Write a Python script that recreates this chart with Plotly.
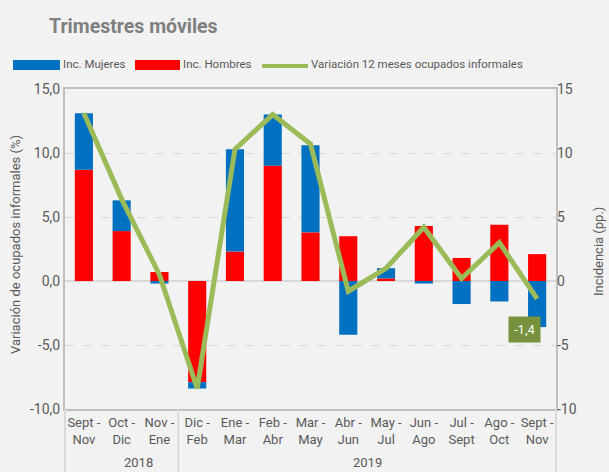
import plotly.graph_objects as go

categorias = ["Sept -<br>Nov", "Oct -<br>Dic", "Nov -<br>Ene", "Dic -<br>Feb", "Ene -<br>Mar",
              "Feb -<br>Abr", "Mar -<br>May", "Abr -<br>Jun", "May -<br>Jul", "Jun -<br>Ago",
              "Jul -<br>Sept", "Ago -<br>Oct", "Sept -<br>Nov"]
anios = ["2018", "2019"]
inc_hombres = [8.7, 3.9, 0.7, -7.9, 2.3, 9.0, 3.8, 3.5, 0.2, 4.3, 1.8, 4.4, 2.1]
inc_mujeres = [4.4, 2.4, -0.2, -0.5, 8.0, 4.0, 6.8, -4.2, 0.8, -0.2, -1.8, -1.6, -3.6]
variacion = [13.1, 6.4, 0.5, -8.4, 10.3, 13.0, 10.7, -0.8, 1.0, 4.2, 0.2, 3.0, -1.4]
left_ticks = [-10, -5, 0, 5, 10, 15]
left_ticktext = ["-10,0", "-5,0", "0,0", "5,0", "10,0", "15,0"]
right_ticktext = ["-10", "-5", "0", "5", "10", "15"]

BLUE = "#0070C0"
RED = "#FF0000"
GREEN = "#9BBB59"
GRAY = "#595959"
BG = "#F2F2F2"
FONT = "Roboto, sans-serif"

x = list(range(len(categorias)))

fig = go.Figure()
fig.add_trace(go.Bar(x=x, y=inc_hombres, name="Inc. Hombres", marker_color=RED,
                     marker_line_width=0, width=0.48, showlegend=False))
fig.add_trace(go.Bar(x=x, y=inc_mujeres, name="Inc. Mujeres", marker_color=BLUE,
                     marker_line_width=0, width=0.48, showlegend=False))
fig.add_trace(go.Scatter(x=x, y=variacion, name="Variación 12 meses ocupados informales",
                         mode="lines", line=dict(color=GREEN, width=5), yaxis="y2",
                         showlegend=False))

W, H = 609, 472
L, R, T, B = 65, 53, 89, 63
n = len(categorias)
fig.update_layout(
    width=W, height=H,
    margin=dict(l=L, r=R, t=T, b=B, autoexpand=False),
    paper_bgcolor=BG, plot_bgcolor=BG,
    barmode="relative",
    font=dict(family=FONT, color=GRAY, size=13),
    xaxis=dict(range=[-0.5, n - 0.5], tickmode="array", tickvals=x, ticktext=categorias,
               showgrid=False, zeroline=False, showline=True, linecolor="#BFBFBF",
               linewidth=2, mirror=True, ticks="", automargin=False,
               tickfont=dict(size=13, color=GRAY)),
    yaxis=dict(range=[-10, 15], tickvals=left_ticks, ticktext=left_ticktext,
               showgrid=True, gridcolor="#D9D9D9", griddash="dash", gridwidth=1,
               zeroline=True, zerolinecolor="#D9D9D9", zerolinewidth=1.5,
               showline=True, linecolor="#BFBFBF", linewidth=2, mirror=True, ticks="",
               automargin=False, tickfont=dict(size=14, color=GRAY)),
    yaxis2=dict(range=[-10, 15], tickvals=left_ticks, ticktext=right_ticktext,
                overlaying="y", side="right", showgrid=False, zeroline=False,
                showline=False, ticks="", automargin=False,
                tickfont=dict(size=14, color=GRAY)),
)

def px(xp):
    return (xp - L) / (W - L - R)
def py(yp):
    return (H - B - yp) / (H - B - T)

# axis titles
fig.add_annotation(xref="paper", yref="paper", x=px(15), y=py(245), text="Variación de ocupados informales (%)",
                   textangle=-90, showarrow=False, font=dict(size=13, color=GRAY),
                   xanchor="center", yanchor="middle")
fig.add_annotation(xref="paper", yref="paper", x=px(598), y=py(252), text="Incidencia (pp.)",
                   textangle=-90, showarrow=False, font=dict(size=13, color=GRAY),
                   xanchor="center", yanchor="middle")

# vertical separators for year groups
sep = 3 / n
for xp in [0, sep, 1]:
    fig.add_shape(type="line", xref="paper", yref="paper", x0=xp, x1=xp, y0=0, y1=py(472),
                  line=dict(color="#D9D9D9", width=2))

fig.add_annotation(xref="paper", yref="paper", x=sep / 2, y=py(462), text=anios[0],
                   showarrow=False, font=dict(size=13, color=GRAY), yanchor="middle")
fig.add_annotation(xref="paper", yref="paper", x=sep + (1 - sep) / 2, y=py(462), text=anios[1],
                   showarrow=False, font=dict(size=13, color=GRAY), yanchor="middle")

# data label for last point
fig.add_annotation(x=x[-1], y=-3.75, yref="y2", text="-1,4", showarrow=False, xshift=-13,
                   bgcolor="#76923C", font=dict(color="white", size=13), borderpad=5)

# title
fig.add_annotation(xref="paper", yref="paper", x=px(47), y=py(26), xanchor="left", yanchor="middle",
                   text="<b>Trimestres móviles</b>", showarrow=False,
                   font=dict(family="Roboto", size=19.5, color="#7F7F7F"))

# custom legend
legend_items = [("rect", BLUE, 13, 60, "Inc. Mujeres"),
                ("rect", RED, 135, 180, "Inc. Hombres"),
                ("line", GREEN, 262, 308, "Variación 12 meses ocupados informales")]
for kind, col, x0, x1, label in legend_items:
    if kind == "rect":
        fig.add_shape(type="rect", xref="paper", yref="paper", x0=px(x0), x1=px(x1),
                      y0=py(70), y1=py(60), fillcolor=col, line=dict(width=0))
    else:
        fig.add_shape(type="line", xref="paper", yref="paper", x0=px(x0), x1=px(x1),
                      y0=py(66), y1=py(66), line=dict(color=col, width=4))
    fig.add_annotation(xref="paper", yref="paper", x=px(x1 + 1), y=py(64.5), xanchor="left",
                       yanchor="middle", text=label, showarrow=False,
                       font=dict(size=11.5, color=GRAY))

fig.write_html("out.html", post_script="document.body.style.margin='0';",
               config={"displayModeBar": False})
